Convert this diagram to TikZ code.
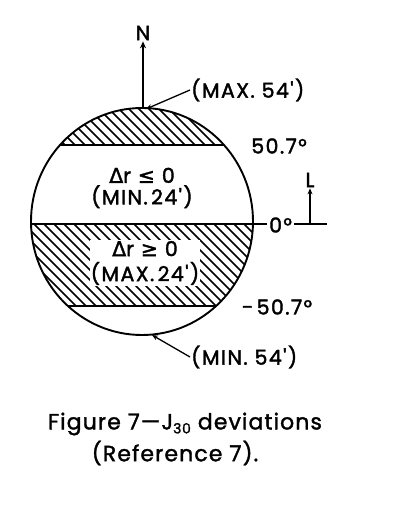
\documentclass[tikz,border=0pt]{standalone}
\usepackage{fontspec}
\setmainfont{Poppins}[FakeBold=1.5,LetterSpace=5]
\newfontfamily\lab[LetterSpace=7,FakeBold=1.8]{Poppins}
\newfontfamily\symf[FakeBold=1.5]{DejaVu Sans}
\usetikzlibrary{arrows.meta,shapes.geometric}
\begin{document}
\begin{tikzpicture}[x=1pt,y=-1pt,
  outline/.style={line width=1.9pt},
  hatch/.style={line width=1.7pt},
  leader/.style={line width=1.3pt,-{Stealth[length=6pt,width=5pt]}},
  lbl/.style={font=\lab\fontsize{20.5}{24}\selectfont, inner sep=1pt},
  captext/.style={font=\fontsize{22}{26}\selectfont, inner sep=0pt}]
\useasboundingbox (0,0) rectangle (405,516);
\fill[white] (0,0) rectangle (405,516);

% hatching: top cap
\begin{scope}
  \clip (142,221.5) ellipse [x radius=111, y radius=113.5];
  \clip (0,0) rectangle (405,145);
  \foreach \t in {-300,-290,...,300} \draw[hatch] (\t,0) -- ++(400,400);
\end{scope}
% hatching: southern band
\begin{scope}
  \clip (142,221.5) ellipse [x radius=111, y radius=113.5];
  \clip (0,224) rectangle (405,306);
  \foreach \t in {-300,-290,...,300} \draw[hatch] (\t,0) -- ++(400,400);
\end{scope}

\node (globe) [draw, outline, ellipse, minimum width=222, minimum height=227, inner sep=0pt] at (142,221.5) {};

% latitude lines
\begin{scope}
  \clip (142,221.5) ellipse [x radius=111, y radius=113.5];
  \draw[outline] (0,145) -- (300,145);
  \draw[outline] (0,306) -- (300,306);
\end{scope}

% equator
\coordinate (eqW) at (31,224);
\coordinate (eqE) at (267,224);
\draw[outline] (eqW) -- (eqE);
\node (zero) [lbl, anchor=west, inner sep=0pt] at (269,225) {0°};
\coordinate (lineR) at (327,224);
\draw[outline] (294,224) -- (lineR);
\coordinate (Lbase) at (310,224);
\node (L) [lbl] at (310,180) {L};
\draw[line width=1.3pt,-{Stealth[length=6pt,width=5pt]}] (Lbase) -- (L.south);

% north
\node (N) [lbl] at (143,33) {N};
\coordinate (Nbase) at (143,108);
\draw[line width=1.7pt,-{Stealth[length=7pt,width=6pt]}] (Nbase) -- (N.south);

% labels
\node (max54) [lbl, anchor=west] at (190,90) {(MAX.\ 54')};
\coordinate (topC) at (146,109);
\draw[leader] (max54.west) -- (topC);
\node (lat1) [lbl] at (279,146) {50.7°};
\node (lat2) [lbl] at (277,307) {-\,50.7°};
\node (min54) [lbl, anchor=west] at (190,357) {(MIN.\ 54')};
\coordinate (botC) at (152,335);
\draw[leader] (min54.west) -- (botC);

\node (north) [lbl, align=center, font=\lab\fontsize{20.5}{21.5}\selectfont] at (142,188) {{\symf Δ}r {\symf ≤} 0\\(MIN.\,24')};
\node (south) [lbl, align=center, fill=white, inner sep=1pt, font=\lab\fontsize{20.5}{25}\selectfont] at (145,263) {{\symf Δ}r {\symf ≥} 0\\(MAX.\,24')};

% caption
\node (cap1) [captext] at (185,424) {Figure 7—J\raisebox{-4pt}{\fontsize{14}{14}\selectfont 30} deviations};
\node (cap2) [captext] at (175,453) {(Reference 7).};
\end{tikzpicture}
\end{document}
